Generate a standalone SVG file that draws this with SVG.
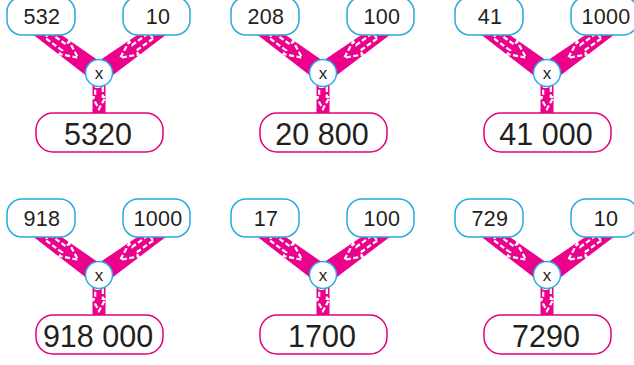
<svg xmlns="http://www.w3.org/2000/svg" xmlns:xlink="http://www.w3.org/1999/xlink" width="634" height="365" viewBox="0 0 634 365">
<style>
.in{fill:#fff;stroke:#29abe2;stroke-width:1.5}
.out{fill:#fff;stroke:#e6007e;stroke-width:1.5}
.op{fill:#fff;stroke:#29abe2;stroke-width:1.5}
.t{font-family:"Liberation Sans",Arial,sans-serif;fill:#231f20;text-anchor:middle}
.ti{font-size:21.5px;letter-spacing:0.3px}
.tr{font-size:30.5px}
.tx{font-size:17px}
.band{fill:#ec008c}
.dash{fill:none;stroke:#fff;stroke-width:2.2;stroke-dasharray:5 2.5;stroke-linejoin:miter}
</style>
<defs>
<g id="diag">
<polygon class="band" points="-76,-8 0,-10 0,10 -76,8"/>
<polygon class="dash" points="-64,-3.5 -43,-3.5 -43,-8 -26,0 -43,8 -43,3.5 -64,3.5"/>
</g>
<g id="vert">
<rect class="band" x="-6.5" y="0" width="13" height="41"/>
<polygon class="dash" points="-3.8,14 3.8,14 3.8,24 6.5,24 0,36 -6.5,24 -3.8,24"/>
</g>
<g id="panel">
<g class="connectors">
<use xlink:href="#diag" transform="translate(99,73) rotate(36.2)"/>
<use xlink:href="#diag" transform="translate(99,73) rotate(144.4)"/>
<use xlink:href="#vert" transform="translate(99,73)"/>
</g>
<rect class="in" x="7" y="-3" width="68" height="38" rx="15"/>
<rect class="in" x="123" y="-3" width="67" height="38" rx="15"/>
<circle class="op" cx="99" cy="73" r="13.5"/>
<text class="t tx" x="99" y="78.5">x</text>
<rect class="out" x="36" y="113" width="127" height="39" rx="17"/>
</g>
</defs>

<g id="p1">
<use xlink:href="#panel"/>
<text class="t ti" x="42" y="24">532</text>
<text class="t ti" x="158" y="24">10</text>
<text class="t tr" x="98" y="145">5320</text>
</g>
<g id="p2" transform="translate(224,0)">
<use xlink:href="#panel"/>
<text class="t ti" x="42" y="24">208</text>
<text class="t ti" x="158" y="24">100</text>
<text class="t tr" x="98" y="145">20 800</text>
</g>
<g id="p3" transform="translate(448,0)">
<use xlink:href="#panel"/>
<text class="t ti" x="42" y="24">41</text>
<text class="t ti" x="158" y="24">1000</text>
<text class="t tr" x="98" y="145">41 000</text>
</g>
<g id="p4" transform="translate(0,202)">
<use xlink:href="#panel"/>
<text class="t ti" x="42" y="24">918</text>
<text class="t ti" x="158" y="24">1000</text>
<text class="t tr" x="98" y="145">918 000</text>
</g>
<g id="p5" transform="translate(224,202)">
<use xlink:href="#panel"/>
<text class="t ti" x="42" y="24">17</text>
<text class="t ti" x="158" y="24">100</text>
<text class="t tr" x="98" y="145">1700</text>
</g>
<g id="p6" transform="translate(448,202)">
<use xlink:href="#panel"/>
<text class="t ti" x="42" y="24">729</text>
<text class="t ti" x="158" y="24">10</text>
<text class="t tr" x="98" y="145">7290</text>
</g>
</svg>
